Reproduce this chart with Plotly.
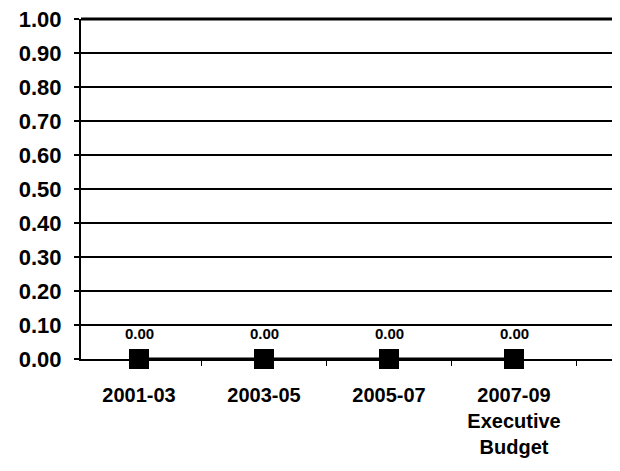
import plotly.graph_objects as go

categories = ["2001-03", "2003-05", "2005-07", "2007-09<br>Executive<br>Budget"]
values = [0.00, 0.00, 0.00, 0.00]
value_labels = ["0.00", "0.00", "0.00", "0.00"]
y_ticks = [0.0, 0.1, 0.2, 0.3, 0.4, 0.5, 0.6, 0.7, 0.8, 0.9, 1.0]

font_family = "Liberation Sans, Arial, sans-serif"

fig = go.Figure()
fig.add_trace(go.Scatter(
    x=categories, y=values,
    mode="lines+markers",
    line=dict(color="black", width=3),
    marker=dict(symbol="square", size=20, color="black"),
    cliponaxis=False,
    showlegend=False,
))

for c, v, t in zip(categories, values, value_labels):
    fig.add_annotation(
        x=c, y=v, text=t, showarrow=False, yshift=26,
        font=dict(family=font_family, size=15, color="black", weight="bold"),
    )

fig.update_layout(
    width=620, height=471,
    margin=dict(l=73, r=13, t=11, b=120, autoexpand=False),
    paper_bgcolor="white", plot_bgcolor="white",
    font=dict(family=font_family, color="black"),
)
fig.update_xaxes(
    type="category",
    range=[-0.464, 3.808],
    automargin=False,
    showgrid=False,
    showline=True, linecolor="black", linewidth=2,
    ticks="outside", tickson="boundaries", ticklen=5, tickcolor="black", tickwidth=1,
    tickfont=dict(family=font_family, size=20, color="black", weight="bold"),
    ticklabelstandoff=17,
    ticklabeloverflow="allow",
)
fig.update_yaxes(
    range=[0, 1.0],
    automargin=False,
    tickvals=y_ticks,
    tickformat=".2f",
    showgrid=True, gridcolor="black", gridwidth=2,
    showline=True, linecolor="black", linewidth=2,
    ticks="outside", ticklen=5, tickcolor="black", tickwidth=2,
    tickfont=dict(family=font_family, size=22, color="black", weight="bold"),
    ticklabelstandoff=8,
    ticklabeloverflow="allow",
    zeroline=False,
)
# right and top border
fig.add_shape(type="line", xref="paper", yref="paper", x0=1, x1=1, y0=0, y1=1,
              line=dict(color="black", width=2))
fig.add_shape(type="line", xref="paper", yref="paper", x0=0, x1=1, y0=1, y1=1,
              line=dict(color="black", width=3))

fig.write_html("out.html")
